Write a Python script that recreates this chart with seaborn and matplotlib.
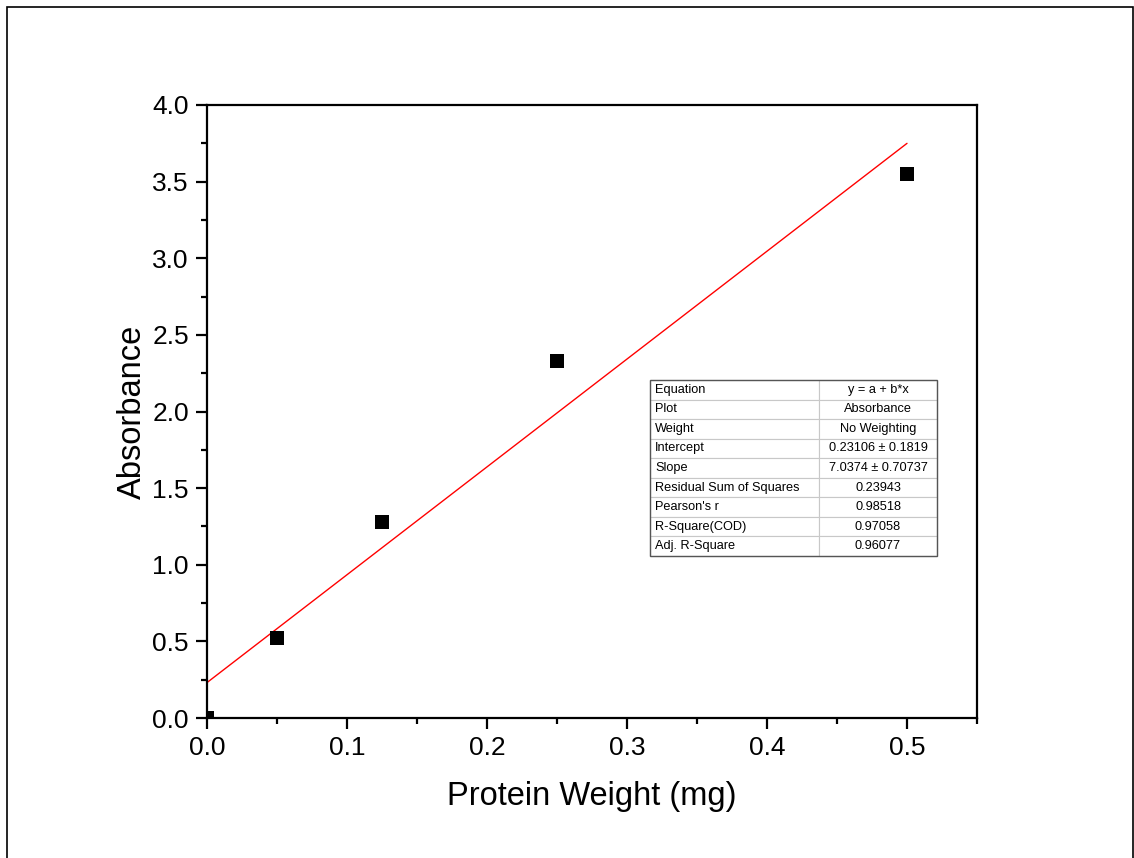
import numpy as np
import pandas as pd
import matplotlib
matplotlib.use("Agg")
import matplotlib.pyplot as plt
import seaborn as sns
from matplotlib.ticker import MultipleLocator, FormatStrFormatter
from matplotlib.patches import Rectangle

# Data
protein_weight = [0.0, 0.05, 0.125, 0.25, 0.5]
absorbance = [0.0, 0.52, 1.28, 2.33, 3.55]

intercept = 0.23106
slope = 7.0374

table_labels = ["Equation", "Plot", "Weight", "Intercept", "Slope",
                "Residual Sum of Squares", "Pearson's r", "R-Square(COD)", "Adj. R-Square"]
table_values = ["y = a + b*x", "Absorbance", "No Weighting", "0.23106 \u00b1 0.1819",
                "7.0374 \u00b1 0.70737", "0.23943", "0.98518", "0.97058", "0.96077"]

sns.set_theme(style="white")
plt.rcParams['font.family'] = ['Liberation Sans', 'DejaVu Sans']
plt.rcParams['text.color'] = 'black'
plt.rcParams['axes.labelcolor'] = 'black'
plt.rcParams['xtick.color'] = 'black'
plt.rcParams['ytick.color'] = 'black'

fig = plt.figure(figsize=(11.34, 8.58), dpi=100)
ax = fig.add_axes([207/1134, 1 - 718/858, (977-207)/1134, (718-105)/858])

df = pd.DataFrame({"x": protein_weight, "y": absorbance})
fit_x = np.array([min(protein_weight), max(protein_weight)])
fit_df = pd.DataFrame({"x": fit_x, "y": intercept + slope * fit_x})

sns.lineplot(data=fit_df, x="x", y="y", color="red", linewidth=1.0, ax=ax, zorder=2)
sns.scatterplot(data=df, x="x", y="y", marker="s", s=105, color="black",
                edgecolor="black", linewidth=0, ax=ax, zorder=3)

ax.set_xlim(0, 0.55)
ax.set_ylim(0, 4.0)
ax.xaxis.set_major_locator(MultipleLocator(0.1))
ax.xaxis.set_minor_locator(MultipleLocator(0.05))
ax.yaxis.set_major_locator(MultipleLocator(0.5))
ax.yaxis.set_minor_locator(MultipleLocator(0.25))
ax.xaxis.set_major_formatter(FormatStrFormatter('%.1f'))
ax.yaxis.set_major_formatter(FormatStrFormatter('%.1f'))

for s in ax.spines.values():
    s.set_color("black")
    s.set_linewidth(1.6)

ax.tick_params(which="major", direction="out", length=8, width=1.6, color="black",
               labelsize=19, labelcolor="black",
               bottom=True, left=True, top=False, right=False, pad=5)
ax.tick_params(which="minor", direction="out", length=4.5, width=1.6, color="black",
               bottom=True, left=True, top=False, right=False)

ax.set_xlabel("Protein Weight (mg)", fontsize=23.5, labelpad=15, color="black")
ax.set_ylabel("Absorbance", fontsize=23.5, labelpad=3, color="black")

# Fit results table
tbl = ax.table(cellText=[[a, b] for a, b in zip(table_labels, table_values)],
               cellLoc="left",
               bbox=[(650-207)/770, (718-556)/613, (937-650)/770, (556-380)/613],
               colWidths=[(819-650)/(937-650), (937-819)/(937-650)])
tbl.auto_set_font_size(False)
tbl.set_fontsize(9.2)
for (r, c), cell in tbl.get_celld().items():
    cell.set_edgecolor("#c8c8c8")
    cell.set_linewidth(0.8)
    cell.set_facecolor("white")
    cell.get_text().set_color("black")
    if c == 1:
        cell.get_text().set_horizontalalignment("center")
        cell._loc = "center"
    else:
        cell.PAD = 0.03
tbl.set_zorder(5)
# dark outer border
ax.add_patch(Rectangle(((650-207)/770, (718-556)/613), (937-650)/770, (556-380)/613,
                       transform=ax.transAxes, fill=False, edgecolor="#555555",
                       linewidth=1.0, zorder=6))

# Figure border
fig.patches.append(Rectangle((7/1134, -0.01), (1133-7)/1134, 1 - 7/858 + 0.01,
                             transform=fig.transFigure, fill=False,
                             edgecolor="black", linewidth=1.2))

fig.savefig("out.png", dpi=100)
